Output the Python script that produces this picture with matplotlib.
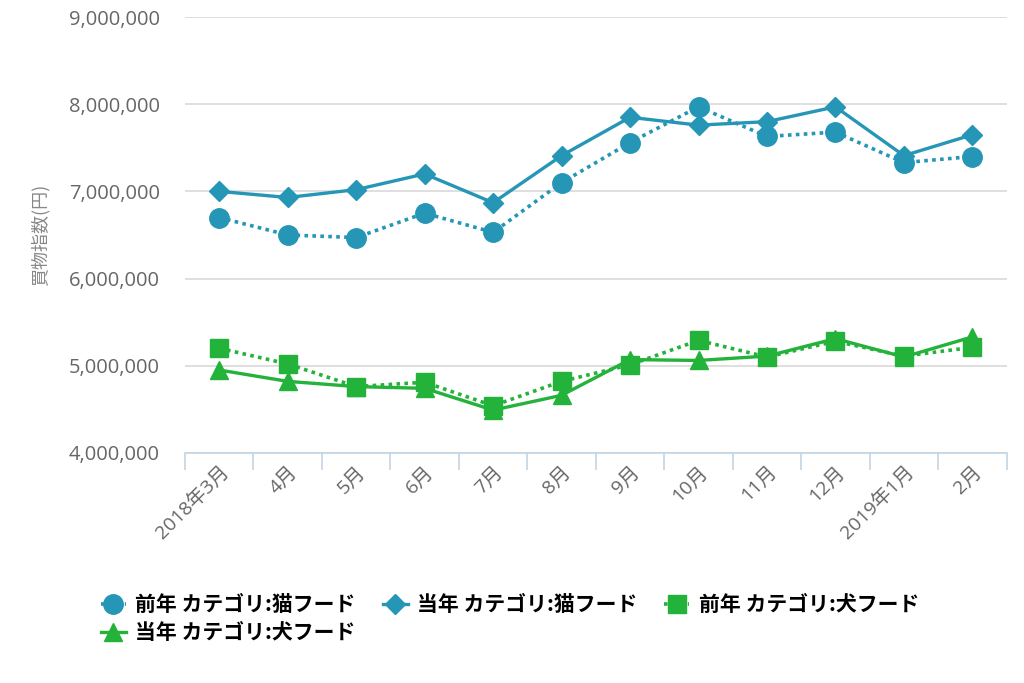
import numpy as np
import matplotlib
matplotlib.use("Agg")
import matplotlib.pyplot as plt
from matplotlib.ticker import FuncFormatter, FixedLocator

plt.rcParams['font.family'] = ['Noto Sans CJK JP', 'DejaVu Sans']

months = ['2018年3月', '4月', '5月', '6月', '7月', '8月', '9月',
          '10月', '11月', '12月', '2019年1月', '2月']

cat_prev = [6.70, 6.50, 6.47, 6.75, 6.53, 7.10, 7.56, 7.97, 7.63, 7.68, 7.33, 7.40]
cat_curr = [7.00, 6.93, 7.02, 7.20, 6.87, 7.41, 7.85, 7.76, 7.80, 7.97, 7.41, 7.65]
dog_prev = [5.20, 5.02, 4.76, 4.81, 4.54, 4.82, 5.01, 5.29, 5.10, 5.28, 5.11, 5.21]
dog_curr = [4.95, 4.82, 4.76, 4.74, 4.49, 4.66, 5.07, 5.06, 5.11, 5.31, 5.10, 5.33]

labels = ['前年 カテゴリ:猫フード', '当年 カテゴリ:猫フード',
          '前年 カテゴリ:犬フード', '当年 カテゴリ:犬フード']

teal = '#2596b5'
green = '#23b23a'

fig = plt.figure(figsize=(10.24, 6.83), dpi=100)
ax = fig.add_axes([0.1807, 0.337, 0.8023, 0.638])

x = np.arange(len(months))
scale = 1e6
l1, = ax.plot(x, np.array(cat_prev) * scale, color=teal, ls=(0, (1, 1.2)), lw=2.6,
              marker='o', ms=14, label=labels[0])
l2, = ax.plot(x, np.array(cat_curr) * scale, color=teal, ls='-', lw=2.4,
              marker='D', ms=10, label=labels[1])
l3, = ax.plot(x, np.array(dog_prev) * scale, color=green, ls=(0, (1, 1.2)), lw=2.6,
              marker='s', ms=13, label=labels[2])
l4, = ax.plot(x, np.array(dog_curr) * scale, color=green, ls='-', lw=2.4,
              marker='^', ms=13, label=labels[3])

ax.set_xlim(-0.5, len(months) - 0.5)
ax.set_ylim(4e6, 9e6)
ax.set_yticks(np.arange(4e6, 9.01e6, 1e6))
ax.yaxis.set_major_formatter(FuncFormatter(lambda v, p: f'{int(v):,}'))
ax.grid(axis='y', color='#d9d9d9', lw=1.2)
ax.set_axisbelow(True)

for s in ['left', 'right', 'top']:
    ax.spines[s].set_visible(False)
ax.spines['bottom'].set_color('#c4d4e4')
ax.spines['bottom'].set_linewidth(1.2)

ax.tick_params(axis='y', length=0, pad=18, labelsize=14.5, labelcolor='#666666')
for t in ax.get_yticklabels():
    t.set_fontfamily(['Open Sans', 'DejaVu Sans'])
ax.set_xticks(x)
ax.set_xticklabels(months, rotation=45, ha='right', rotation_mode='anchor',
                   fontsize=14, color='#666666')
ax.tick_params(axis='x', which='major', length=0, pad=7)
ax.xaxis.set_minor_locator(FixedLocator(np.arange(-0.5, len(months), 1)))
ax.tick_params(axis='x', which='minor', length=12, color='#c4d4e4', width=1.2)
for t in ax.get_xticklabels():
    t.set_fontfamily(['Open Sans', 'Noto Sans CJK JP'])

ax.set_ylabel('買物指数(円)', fontsize=13, color='#888888')
ax.yaxis.set_label_coords(-0.165, 0.5)

# row-major order: A B C / D
fig.legend([l1, l4, l2, l3], [labels[0], labels[3], labels[1], labels[2]],
           loc='upper left', bbox_to_anchor=(0.08, 0.158), ncol=3, frameon=False,
           handlelength=1.2, handletextpad=0.45, columnspacing=1.3,
           labelspacing=0.35, prop={'size': 15, 'weight': 'bold'})

fig.savefig('out.png', dpi=100)
